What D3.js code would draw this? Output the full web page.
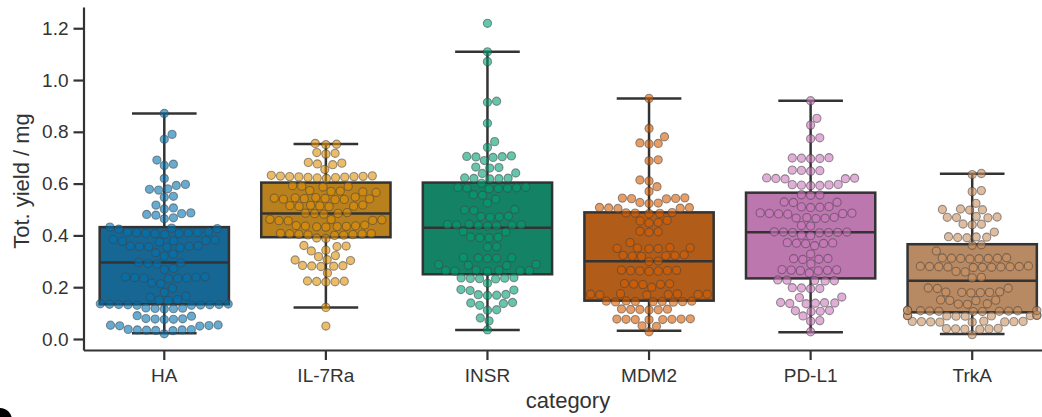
<!DOCTYPE html>
<html>
<head>
<meta charset="utf-8">
<script src="https://cdn.jsdelivr.net/npm/d3@7"></script>
<style>
  body { margin: 0; background: #fff; }
  svg text { font-family: "Liberation Sans", Arial, sans-serif; fill: #333; }
</style>
</head>
<body>
<svg id="chart"></svg>
<script>
const categories = ['HA', 'IL-7Ra', 'INSR', 'MDM2', 'PD-L1', 'TrkA'];
const palette = ['#0173b2', '#de8f05', '#029e73', '#d55e00', '#cc78bc', '#ca9161'];
const yTicks = [0, 0.2, 0.4, 0.6, 0.8, 1.0, 1.2];

// box statistics
const whiskerLow  = [0.022, 0.122, 0.035, 0.032, 0.026, 0.019];
const q1          = [0.134, 0.393, 0.250, 0.148, 0.234, 0.103];
const median      = [0.295, 0.485, 0.430, 0.300, 0.412, 0.225];
const q3          = [0.432, 0.604, 0.604, 0.489, 0.565, 0.366];
const whiskerHigh = [0.871, 0.753, 1.109, 0.929, 0.920, 0.638];

// individual yields per category
const yieldHA = [0.871, 0.79, 0.771, 0.691, 0.675, 0.670, 0.62, 0.597, 0.593, 0.580, 0.578, 0.575, 0.551, 0.547, 0.517, 0.506, 0.502,
  0.487, 0.484, 0.481, 0.478, 0.468, 0.464, 0.432, 0.428, 0.426, 0.424,
  0.414, 0.412, 0.411, 0.410, 0.409, 0.408, 0.407, 0.406, 0.404,
  0.384, 0.382, 0.380, 0.379, 0.377, 0.375, 0.360, 0.359, 0.358, 0.357, 0.356, 0.354, 0.352,
  0.333, 0.328, 0.320, 0.296, 0.294, 0.292, 0.290, 0.272, 0.268,
  0.240, 0.239, 0.238, 0.237, 0.236, 0.235, 0.234, 0.233, 0.216, 0.213, 0.196, 0.180,
  0.165, 0.161, 0.152, 0.150, 0.148, 0.136, 0.135, 0.134, 0.133, 0.133, 0.132, 0.132, 0.131, 0.130, 0.130,
  0.120, 0.119, 0.118, 0.117, 0.116, 0.090, 0.088, 0.079, 0.078, 0.077, 0.076, 0.075,
  0.054, 0.053, 0.052, 0.051, 0.050, 0.037, 0.036, 0.035, 0.035, 0.034, 0.033, 0.032, 0.020];

const yieldIL7Ra = [0.755, 0.752, 0.750, 0.720, 0.717, 0.714, 0.682, 0.679, 0.676, 0.673, 0.655,
  0.632, 0.630, 0.629, 0.628, 0.627, 0.627, 0.626, 0.625, 0.624, 0.623, 0.622, 0.620,
  0.592, 0.590, 0.589, 0.587, 0.573, 0.571, 0.570, 0.568, 0.566,
  0.548, 0.546, 0.545, 0.544, 0.543, 0.542, 0.541, 0.540, 0.539, 0.538,
  0.517, 0.516, 0.515, 0.514, 0.513, 0.512, 0.511, 0.488, 0.486, 0.485, 0.484, 0.482,
  0.462, 0.461, 0.460, 0.458, 0.457, 0.456, 0.440, 0.438, 0.437, 0.436, 0.435, 0.434, 0.433, 0.432,
  0.408, 0.407, 0.406, 0.405, 0.404, 0.403, 0.402, 0.401, 0.400, 0.390, 0.388,
  0.361, 0.359, 0.357, 0.343, 0.340, 0.322, 0.318, 0.306, 0.305, 0.303,
  0.284, 0.283, 0.282, 0.281, 0.280, 0.255, 0.224, 0.223, 0.222, 0.221, 0.220, 0.122, 0.050];

const yieldINSR = [1.219, 1.109, 1.071, 0.918, 0.914, 0.833, 0.762, 0.740,
  0.707, 0.705, 0.704, 0.703, 0.701, 0.689, 0.664, 0.662, 0.660, 0.641, 0.639,
  0.622, 0.621, 0.620, 0.619, 0.618, 0.601, 0.586, 0.585, 0.584, 0.583, 0.582, 0.581, 0.580,
  0.557, 0.555, 0.540, 0.525, 0.500, 0.498, 0.496, 0.474, 0.473, 0.471, 0.470,
  0.443, 0.442, 0.441, 0.440, 0.439, 0.438, 0.437, 0.436, 0.415, 0.413,
  0.394, 0.393, 0.391, 0.390, 0.357, 0.355, 0.315, 0.314, 0.313, 0.312, 0.311,
  0.288, 0.287, 0.285, 0.284, 0.266, 0.265, 0.264, 0.264, 0.263, 0.262, 0.261,
  0.237, 0.236, 0.235, 0.234, 0.233, 0.232, 0.215, 0.191, 0.189, 0.187,
  0.172, 0.171, 0.169, 0.168, 0.141, 0.139, 0.137, 0.130, 0.113, 0.111, 0.081, 0.070, 0.035];

const yieldMDM2 = [0.929, 0.813, 0.781, 0.757, 0.755, 0.753, 0.692, 0.688, 0.614, 0.610, 0.588, 0.570,
  0.545, 0.544, 0.543, 0.542, 0.541, 0.527, 0.525, 0.523, 0.508, 0.507, 0.506, 0.505, 0.504,
  0.488, 0.487, 0.486, 0.485, 0.484, 0.458, 0.456, 0.450, 0.448, 0.416, 0.414, 0.412, 0.372,
  0.353, 0.352, 0.351, 0.350, 0.349, 0.348, 0.325, 0.323, 0.322, 0.321, 0.320, 0.319, 0.301, 0.299,
  0.266, 0.265, 0.264, 0.264, 0.263, 0.262, 0.261, 0.214, 0.213, 0.212, 0.211, 0.210, 0.200,
  0.175, 0.174, 0.173, 0.173, 0.172, 0.172, 0.171, 0.170,
  0.147, 0.146, 0.146, 0.145, 0.145, 0.144, 0.144, 0.143, 0.142,
  0.116, 0.115, 0.114, 0.114, 0.113, 0.112,
  0.078, 0.077, 0.077, 0.076, 0.076, 0.075, 0.075, 0.074, 0.051, 0.049, 0.028];

const yieldPDL1 = [0.920, 0.852, 0.826, 0.777, 0.773, 0.700, 0.699, 0.698, 0.697, 0.696,
  0.652, 0.651, 0.650, 0.648, 0.622, 0.621, 0.620, 0.619, 0.618,
  0.597, 0.596, 0.595, 0.594, 0.593, 0.592, 0.557, 0.556, 0.555, 0.529, 0.528, 0.527,
  0.511, 0.510, 0.509, 0.508, 0.487, 0.486, 0.485, 0.484, 0.483, 0.482,
  0.470, 0.469, 0.467, 0.466, 0.465, 0.438, 0.436,
  0.414, 0.413, 0.413, 0.412, 0.411, 0.411, 0.410, 0.401, 0.399,
  0.372, 0.371, 0.370, 0.369, 0.368, 0.360, 0.328, 0.311, 0.310, 0.308, 0.307, 0.290,
  0.268, 0.267, 0.266, 0.265, 0.264, 0.263, 0.255, 0.228, 0.227, 0.226, 0.225, 0.224,
  0.198, 0.197, 0.195, 0.194, 0.162, 0.160, 0.141, 0.140, 0.139, 0.138, 0.137, 0.136,
  0.110, 0.109, 0.107, 0.106, 0.089, 0.071, 0.069, 0.028];

const yieldTrkA = [0.639, 0.635, 0.573, 0.569, 0.524, 0.502, 0.500, 0.499, 0.498,
  0.473, 0.471, 0.470, 0.469, 0.468, 0.444, 0.443, 0.441, 0.413,
  0.395, 0.394, 0.393, 0.392, 0.391, 0.364, 0.362, 0.340,
  0.314, 0.313, 0.312, 0.312, 0.311, 0.311, 0.310, 0.309,
  0.282, 0.281, 0.280, 0.280, 0.279, 0.279, 0.278, 0.278, 0.277, 0.277, 0.276,
  0.261, 0.259, 0.238, 0.236, 0.197, 0.196, 0.195, 0.182, 0.181, 0.180, 0.180, 0.179, 0.178,
  0.151, 0.150, 0.149, 0.148, 0.136, 0.135, 0.134,
  0.111, 0.110, 0.110, 0.109, 0.109, 0.108, 0.108, 0.107, 0.107, 0.106, 0.106,
  0.092, 0.091, 0.091, 0.090, 0.090, 0.089, 0.089, 0.088, 0.088,
  0.069, 0.068, 0.068, 0.067, 0.067, 0.066, 0.066, 0.065, 0.065,
  0.041, 0.040, 0.039, 0.039, 0.038, 0.037, 0.017];

const yields = [yieldHA, yieldIL7Ra, yieldINSR, yieldMDM2, yieldPDL1, yieldTrkA];

const width = 1042, height = 417;
const lineColor = '#333';

const svg = d3.select('#chart')
              .attr('width', width)
              .attr('height', height);

const x = d3.scaleBand()
            .domain(categories)
            .range([83.5, 1053]);

const y = d3.scaleLinear()
            .domain([-0.0425, 1.282])
            .range([350, 7]);

const boxW = x.bandwidth() * 0.8;
const capW = boxW / 2;
const r = 4.1;

// Boxes
categories.forEach((cat, i) => {
  const cx = x(cat) + x.bandwidth() / 2;
  const fill = d3.hsl(palette[i]);
  fill.s *= 0.75;
  const g = svg.append('g').attr('class', 'box');

  g.append('line')
   .attr('x1', cx).attr('x2', cx)
   .attr('y1', y(whiskerHigh[i])).attr('y2', y(whiskerLow[i]))
   .attr('stroke', lineColor).attr('stroke-width', 2.5);

  g.append('rect')
   .attr('x', cx - boxW / 2)
   .attr('y', y(q3[i]))
   .attr('width', boxW)
   .attr('height', y(q1[i]) - y(q3[i]))
   .attr('fill', fill.darker(0.15).formatHex())
   .attr('stroke', lineColor).attr('stroke-width', 2.5);

  g.append('line')
   .attr('x1', cx - boxW / 2).attr('x2', cx + boxW / 2)
   .attr('y1', y(median[i])).attr('y2', y(median[i]))
   .attr('stroke', lineColor).attr('stroke-width', 2.5);

  [whiskerLow[i], whiskerHigh[i]].forEach(v => {
    g.append('line')
     .attr('x1', cx - capW / 2).attr('x2', cx + capW / 2)
     .attr('y1', y(v)).attr('y2', y(v))
     .attr('stroke', lineColor).attr('stroke-width', 2.5);
  });
});

// Swarm layout, like seaborn: place sorted points as close to the centre as possible,
// points that do not fit are pushed back to the edge of the box
function swarm(values, limit) {
  const d = 9.2;
  const placed = [];
  const sorted = values.slice().sort((a, b) => a - b);
  sorted.forEach(v => {
    const py = y(v);
    const near = placed.filter(p => Math.abs(p.y - py) < d);
    const cands = [0];
    near.forEach(p => {
      const dx = Math.sqrt(d * d - (p.y - py) * (p.y - py));
      cands.push(p.x + dx, p.x - dx);
    });
    cands.sort((a, b) => Math.abs(a) - Math.abs(b));
    let ok = cands.find(c => near.every(p => Math.hypot(p.x - c, p.y - py) >= d - 0.01));
    ok = Math.max(-limit, Math.min(limit, ok));
    placed.push({ x: ok, y: py, v: v });
  });
  return placed;
}

yields.forEach((vals, i) => {
  const cx = x(categories[i]) + x.bandwidth() / 2;
  svg.append('g')
     .selectAll('circle')
     .data(swarm(vals, boxW / 2))
     .enter()
     .append('circle')
     .attr('cx', d => cx + d.x)
     .attr('cy', d => d.y)
     .attr('r', r)
     .attr('fill', palette[i])
     .attr('fill-opacity', 0.6)
     .attr('stroke', '#444')
     .attr('stroke-opacity', 0.55)
     .attr('stroke-width', 1.1);
});

// Y axis
const yAxis = svg.append('g')
   .attr('transform', 'translate(83.5,0)')
   .call(d3.axisLeft(y).tickValues(yTicks).tickFormat(d3.format('.1f')).tickSize(10).tickSizeOuter(0).tickPadding(5));

// X axis
const xAxis = svg.append('g')
   .attr('transform', 'translate(0,350)')
   .call(d3.axisBottom(x).tickSize(10).tickSizeOuter(0).tickPadding(8.5));

[yAxis, xAxis].forEach(a => {
  a.select('.domain').attr('stroke', lineColor).attr('stroke-width', 2.2);
  a.selectAll('.tick line').attr('stroke', lineColor).attr('stroke-width', 2.2);
  a.selectAll('.tick text').style('font-size', '19px').attr('fill', '#333');
});

// Axis labels
svg.append('text')
   .attr('transform', 'translate(29,181) rotate(-90)')
   .style('text-anchor', 'middle')
   .style('font-size', '22px')
   .text('Tot. yield / mg');

svg.append('text')
   .attr('x', 568)
   .attr('y', 408)
   .style('text-anchor', 'middle')
   .style('font-size', '22px')
   .text('category');

// dark blob in the lower left corner of the picture
svg.append('circle')
   .attr('cx', 0).attr('cy', 420).attr('r', 12)
   .attr('fill', '#000');
</script>
</body>
</html>
